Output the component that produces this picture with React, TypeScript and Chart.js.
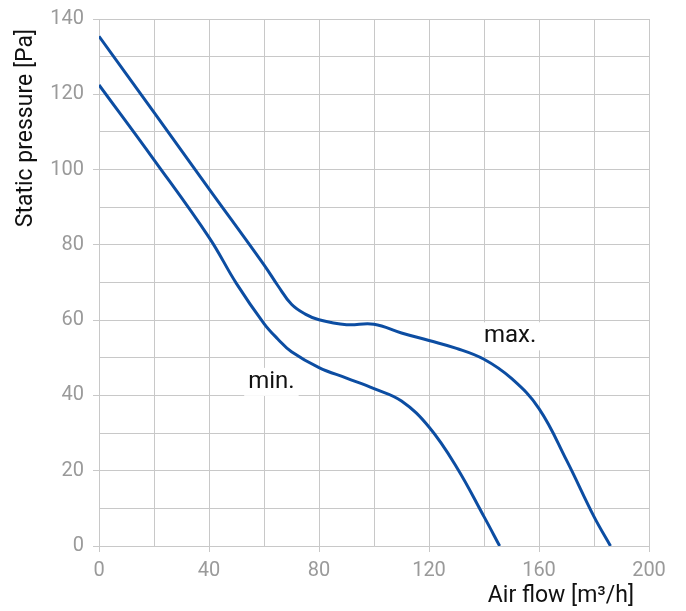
import React, { useEffect, useRef } from "react";
import { Chart, registerables } from "chart.js";

Chart.register(...registerables);

const X_TITLE = "Air flow [m³/h]";
const Y_TITLE = "Static pressure [Pa]";

const maxFlow = [0, 20, 40, 60, 65, 70, 75, 80, 90, 100, 110, 120, 130, 140, 150, 160, 170, 180, 186];
const maxPressure = [135.4, 115.2, 94.9, 74.7, 69.2, 64.2, 61.6, 60.1, 58.8, 58.9, 56.6, 54.6, 52.5, 49.6, 44.5, 36.5, 22.8, 7.8, 0];

const minFlow = [0, 20, 40, 50, 60, 65, 70, 80, 90, 100, 110, 120, 130, 140, 145.7];
const minPressure = [122.5, 102.6, 82, 69.7, 59.1, 55, 51.6, 47.4, 44.6, 41.8, 38.5, 31.6, 21, 7.8, 0];

const curveLabels = ["max.", "min."];
const labelFlow = [149.5, 62.7];
const labelPressure = [55.7, 43.6];

const LINE = "#0c4da2";
const GRID = "#c8c8c8";
const TICK_TEXT = "#9a9a9a";

const pts = (xs: number[], ys: number[]) => xs.map((x, i) => ({ x, y: ys[i] }));

const overlayPlugin = {
  id: "overlay",
  afterDraw(chart: any) {
    const { ctx, chartArea, scales } = chart;
    ctx.save();
    ctx.font = "24px Roboto";
    ctx.textAlign = "center";
    ctx.textBaseline = "middle";
    curveLabels.forEach((t, i) => {
      const px = scales.x.getPixelForValue(labelFlow[i]);
      const py = scales.y.getPixelForValue(labelPressure[i]);
      const w = ctx.measureText(t).width;
      ctx.fillStyle = "#fff";
      ctx.fillRect(px - w / 2 - 4, py - 14, w + 8, 28);
      ctx.fillStyle = "#111";
      ctx.fillText(t, px, py);
    });
    ctx.font = "23px Roboto";
    ctx.fillStyle = "#111";
    ctx.textAlign = "right";
    ctx.fillText(X_TITLE, chartArea.right - 15, chartArea.bottom + 50);
    ctx.translate(26, chartArea.top + 10);
    ctx.rotate(-Math.PI / 2);
    ctx.textAlign = "right";
    ctx.fillText(Y_TITLE, 0, 0);
    ctx.restore();
  },
};

export default function App() {
  const ref = useRef<HTMLCanvasElement | null>(null);

  useEffect(() => {
    if (!ref.current) return;
    const chart = new Chart(ref.current, {
      type: "line",
      data: {
        datasets: [
          {
            label: "max.",
            data: pts(maxFlow, maxPressure),
            borderColor: LINE,
            borderWidth: 3,
            pointRadius: 0,
            tension: 0.4,
            fill: false,
          },
          {
            label: "min.",
            data: pts(minFlow, minPressure),
            borderColor: LINE,
            borderWidth: 3,
            pointRadius: 0,
            tension: 0.4,
            fill: false,
          },
        ],
      },
      options: {
        animation: false,
        responsive: false,
        maintainAspectRatio: false,
        layout: { padding: { top: 18, right: 37, left: 0, bottom: 0 } },
        plugins: { legend: { display: false }, tooltip: { enabled: false } },
        scales: {
          x: {
            type: "linear",
            min: 0,
            max: 200,
            afterFit: (s: any) => {
              s.height = 65;
            },
            border: { color: GRID, width: 1 },
            grid: {
              color: GRID,
              lineWidth: 1,
              tickLength: 6,
              tickColor: (c: any) => (c.tick && c.tick.value % 40 === 0 ? GRID : "rgba(0,0,0,0)"),
            },
            ticks: {
              stepSize: 20,
              autoSkip: false,
              maxRotation: 0,
              padding: 7,
              color: TICK_TEXT,
              font: { family: "Roboto", size: 20 },
              callback: (v: any) => (Number(v) % 40 === 0 ? String(v) : ""),
            },
          },
          y: {
            type: "linear",
            min: 0,
            max: 140,
            afterFit: (s: any) => {
              s.width = 99;
            },
            border: { color: GRID, width: 1 },
            grid: {
              color: GRID,
              lineWidth: 1,
              tickLength: 6,
              tickColor: (c: any) => (c.tick && c.tick.value % 20 === 0 ? GRID : "rgba(0,0,0,0)"),
            },
            ticks: {
              stepSize: 10,
              autoSkip: false,
              padding: 9,
              color: TICK_TEXT,
              font: { family: "Roboto", size: 20, lineHeight: 1 },
              callback: (v: any) => (Number(v) % 20 === 0 ? String(v) : ""),
            },
          },
        },
      },
      plugins: [overlayPlugin],
    });
    return () => chart.destroy();
  }, []);

  return (
    <div style={{ position: "absolute", left: 0, top: 0, width: 686, height: 611, background: "#fff" }}>
      <canvas ref={ref} width={686} height={611} style={{ width: 686, height: 611 }} />
    </div>
  );
}
